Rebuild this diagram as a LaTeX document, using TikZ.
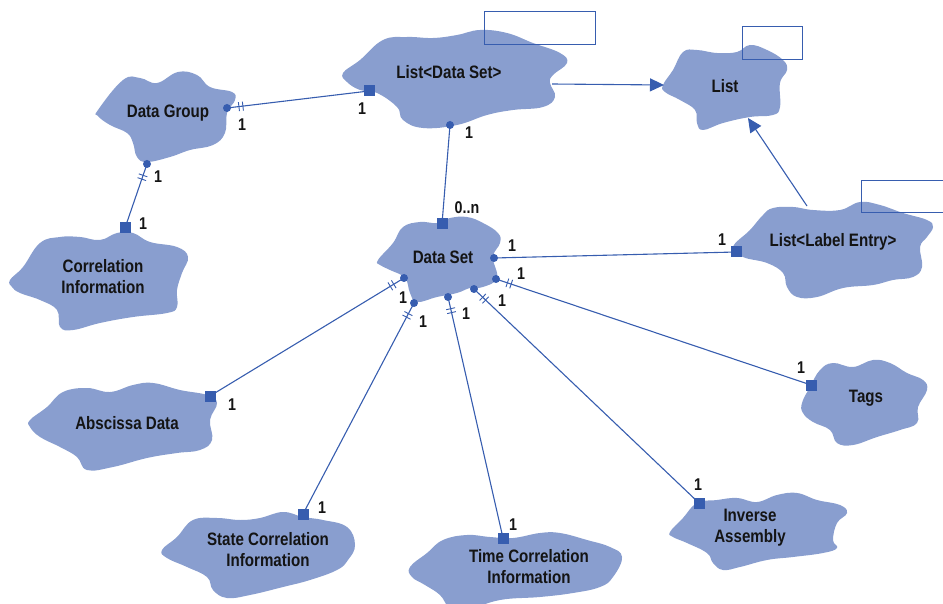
\documentclass[tikz,border=0pt]{standalone}
\usepackage{fontspec}
\setmainfont{Liberation Sans}[FakeStretch=0.84]
\usetikzlibrary{calc,arrows.meta}

\definecolor{cloudblue}{RGB}{137,158,207}
\definecolor{linkblue}{RGB}{55,93,175}
\definecolor{ink}{RGB}{20,20,20}

\tikzset{
  x=1pt, y=-1pt,
  cloudpart/.style={fill=cloudblue},
  title/.style={font=\fontsize{18}{21}\selectfont\bfseries, align=center, text=ink, inner sep=0pt},
  card/.style={font=\fontsize{17}{20}\selectfont\bfseries, text=ink, inner sep=0pt},
  link/.style={draw=linkblue, line width=1.1pt},
  tick/.style={draw=linkblue, line width=0.9pt},
  flag/.style={draw=linkblue, line width=1pt},
  gen/.style={link, -{Triangle[length=14pt,width=13pt]}},
}

% a soft cloud through the given outline points
\newcommand\blob[1]{\fill[cloudpart] plot[smooth cycle, tension=0.7] coordinates {#1};}

\newcommand\dotend[1]{\fill[linkblue] (#1) circle (4);}
\newcommand\sqend[1]{\fill[linkblue] ($(#1)+(-5.5,-5.5)$) rectangle ++(11,11);}
% two short bars across a link, close to its first end
\newcommand\bars[2]{%
  \path ($(#1)!12pt!(#2)$) coordinate (tka) ($(#1)!16pt!(#2)$) coordinate (tkb);
  \draw[tick] ($(tka)!4.5pt!90:(#2)$) -- ($(tka)!4.5pt!-90:(#2)$)
              ($(tkb)!4.5pt!90:(#2)$) -- ($(tkb)!4.5pt!-90:(#2)$);}

\begin{document}
\begin{tikzpicture}
\useasboundingbox (0,0) rectangle (943,604);

% clouds
\blob{(98,110)(123,80)(140,78)(157,83)(178,72)(197,75)(210,87)(232,92)(235,100)(227,113)
      (225,133)(213,145)(190,150)(170,157)(147,162)(137,157)(133,143)(127,133)(110,125)(98,116)}
\blob{(343,73)(360,60)(383,40)(407,37)(433,38)(457,35)(480,30)(507,33)(533,43)(560,53)(567,63)
      (553,75)(550,83)(555,97)(543,107)(513,110)(487,115)(457,125)(423,128)(403,120)(397,107)
      (377,93)(360,90)(347,82)}
\blob{(663,85)(673,70)(683,52)(697,50)(717,53)(737,52)(750,45)(767,50)(783,60)(787,70)(780,83)
      (780,107)(773,115)(750,117)(723,123)(703,130)(697,123)(695,110)(680,100)(665,92)}
\blob{(378,260)(393,243)(403,227)(420,222)(437,223)(450,218)(467,217)(483,223)(498,233)(500,243)
      (493,257)(497,278)(483,287)(470,288)(457,293)(437,297)(417,302)(410,293)(405,278)(390,270)(380,265)}
\blob{(733,247)(750,230)(763,215)(773,208)(793,207)(813,210)(840,210)(860,202)(880,205)(903,213)
      (927,220)(933,227)(927,237)(920,247)(922,267)(913,277)(893,280)(873,285)(843,288)(817,297)
      (797,297)(787,287)(783,273)(767,263)(743,257)}
\blob{(10,280)(23,267)(40,243)(60,237)(80,237)(100,240)(117,233)(133,233)(150,242)(177,247)(188,257)
      (182,273)(177,290)(177,307)(167,313)(133,317)(100,323)(73,330)(60,327)(57,310)(40,300)(20,293)(12,287)}
\blob{(30,420)(47,407)(63,392)(87,388)(110,392)(133,385)(153,383)(180,390)(207,395)(217,403)(210,420)
      (212,440)(200,450)(177,453)(147,458)(113,467)(87,470)(77,457)(60,447)(40,437)(30,427)}
\blob{(802,403)(810,387)(820,370)(833,363)(853,367)(873,360)(890,363)(907,373)(923,380)(927,390)
      (918,407)(917,423)(900,430)(877,437)(853,445)(837,443)(830,430)(813,422)(803,413)}
\blob{(162,550)(177,537)(193,520)(217,518)(240,520)(260,518)(283,512)(303,517)(323,520)(347,527)
      (355,545)(348,560)(337,570)(310,580)(283,587)(250,595)(227,598)(213,590)(207,577)(187,567)(167,558)}
\blob{(410,567)(427,553)(443,540)(467,535)(490,537)(513,538)(540,533)(560,533)(587,540)(610,547)
      (622,557)(613,577)(600,587)(573,593)(540,597)(500,600)(467,610)(450,608)(440,595)(425,585)(412,577)}
\blob{(670,532)(683,518)(697,503)(717,500)(737,498)(757,502)(777,495)(797,493)(817,500)(840,505)
      (847,513)(837,523)(833,540)(837,548)(823,553)(793,557)(767,560)(740,567)(723,570)(713,563)
      (707,553)(687,543)(673,537)}

% titles
\node[title] (dg)  at (168,113) {Data Group};
\node[title] (lds) at (449,72)  {List<Data Set>};
\node[title] (lst) at (725,86)  {List};
\node[title] (ds)  at (443,257) {Data Set};
\node[title] (lle) at (833,242) {List<Label Entry>};
\node[title] (ci)  at (103,277) {Correlation\\Information};
\node[title] (ad)  at (127,423) {Abscissa Data};
\node[title] (tg)  at (866,398) {Tags};
\node[title] (sci) at (268,550) {State Correlation\\Information};
\node[title] (tci) at (529,567) {Time Correlation\\Information};
\node[title] (ia)  at (750,528) {Inverse\\Assembly};

% empty tags attached to the list classes
\draw[flag] (484,12) rectangle (595,45);
\draw[flag] (742,27) rectangle (802,60);
\draw[flag] (861,181) rectangle (950,213);

% link end points
\coordinate (dg-e)  at (227,108);
\coordinate (dg-s)  at (147,164);
\coordinate (lds-w) at (369,91);
\coordinate (lds-s) at (450,125);
\coordinate (lds-e) at (552,84);
\coordinate (lst-w) at (664,85);
\coordinate (lst-s) at (748,118);
\coordinate (lle-n) at (807,206);
\coordinate (lle-w) at (736,252);
\coordinate (ci-n)  at (125,228);
\coordinate (ds-n)  at (442,224);
\coordinate (ds-e)  at (494,258);
\coordinate (ds-t)  at (496,279);
\coordinate (ds-i)  at (474,289);
\coordinate (ds-c)  at (448,297);
\coordinate (ds-s)  at (414,303);
\coordinate (ds-w)  at (404,278);
\coordinate (ad-e)  at (210,396);
\coordinate (sci-n) at (303,514);
\coordinate (tci-n) at (503,538);
\coordinate (ia-n)  at (699,503);
\coordinate (tg-w)  at (811,385);

% associations
\draw[link] (dg-e) -- (lds-w);  \bars{dg-e}{lds-w}
\draw[link] (dg-s) -- (ci-n);   \bars{dg-s}{ci-n}
\draw[link] (lds-s) -- (ds-n);
\draw[link] (ds-e) -- (lle-w);
\draw[link] (ds-t) -- (tg-w);   \bars{ds-t}{tg-w}
\draw[link] (ds-i) -- (ia-n);   \bars{ds-i}{ia-n}
\draw[link] (ds-c) -- (tci-n);  \bars{ds-c}{tci-n}
\draw[link] (ds-s) -- (sci-n);  \bars{ds-s}{sci-n}
\draw[link] (ds-w) -- (ad-e);   \bars{ds-w}{ad-e}

% inheritance
\draw[gen] (lds-e) -- (lst-w);
\draw[gen] (lle-n) -- (lst-s);

% end markers
\dotend{dg-e} \dotend{dg-s} \dotend{lds-s}
\dotend{ds-e} \dotend{ds-t} \dotend{ds-i} \dotend{ds-c} \dotend{ds-s} \dotend{ds-w}
\sqend{lds-w} \sqend{ci-n} \sqend{ds-n} \sqend{lle-w} \sqend{ad-e}
\sqend{sci-n} \sqend{tci-n} \sqend{ia-n} \sqend{tg-w}

% multiplicities
\node[card] (m1)  at (242,125) {1};
\node[card] (m2)  at (362,109) {1};
\node[card] (m3)  at (158,177) {1};
\node[card] (m4)  at (143,224) {1};
\node[card] (m5)  at (469,133) {1};
\node[card] (m6)  at (467,208) {0..n};
\node[card] (m7)  at (512,246) {1};
\node[card] (m8)  at (722,240) {1};
\node[card] (m9)  at (521,274) {1};
\node[card] (m10) at (801,368) {1};
\node[card] (m11) at (502,301) {1};
\node[card] (m12) at (698,485) {1};
\node[card] (m13) at (466,314) {1};
\node[card] (m14) at (513,525) {1};
\node[card] (m15) at (423,322) {1};
\node[card] (m16) at (322,508) {1};
\node[card] (m17) at (403,298) {1};
\node[card] (m18) at (232,405) {1};
\end{tikzpicture}
\end{document}
